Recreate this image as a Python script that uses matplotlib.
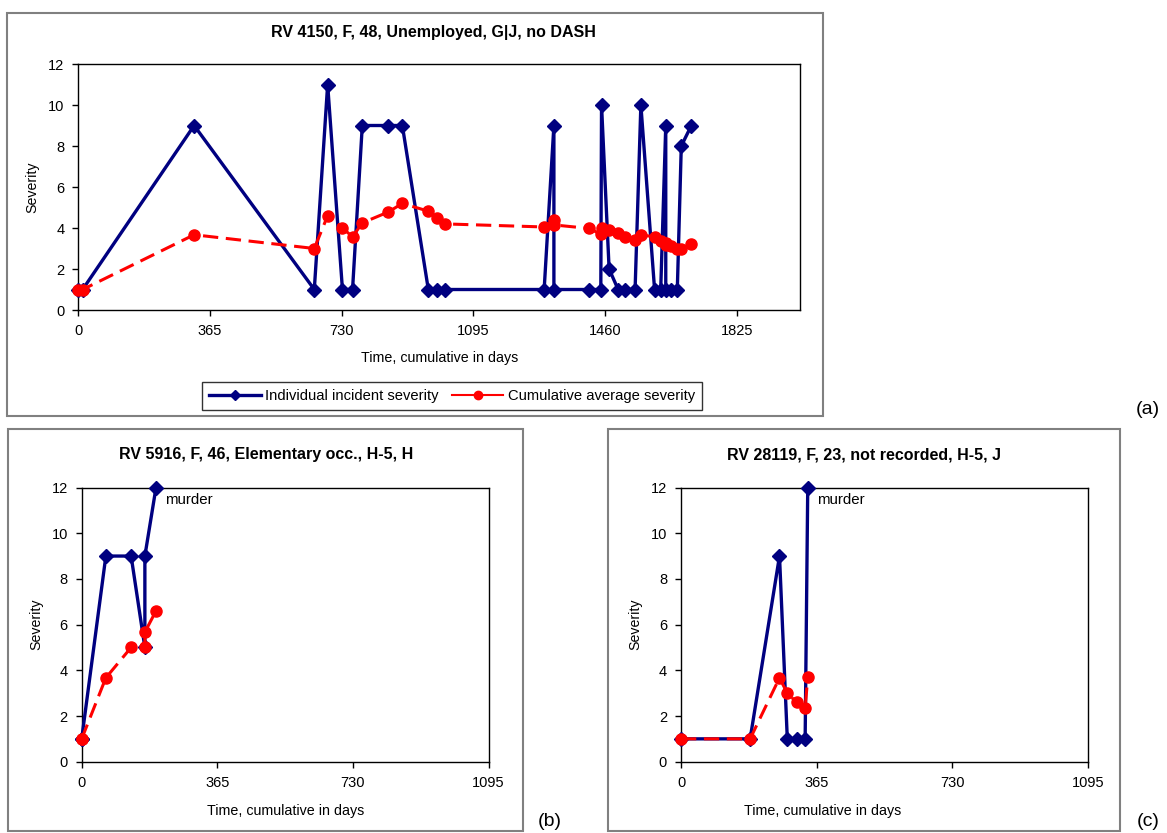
import matplotlib

matplotlib.use("Agg")
import matplotlib.pyplot as plt
from matplotlib.lines import Line2D
from matplotlib.patches import Rectangle

plt.rcParams["font.family"] = ["Liberation Sans", "DejaVu Sans"]

W, H = 1167, 833

# Panel (a): RV 4150
days_a = [0, 12, 321, 654, 691, 732, 760, 787, 859, 898, 970, 993, 1016,
          1291, 1318, 1318, 1415, 1448, 1450, 1471, 1496, 1515, 1543, 1559,
          1597, 1614, 1628, 1628, 1642, 1660, 1671, 1699]
indiv_a = [1, 1, 9, 1, 11, 1, 1, 9, 9, 9, 1, 1, 1,
           1, 9, 1, 1, 1, 10, 2, 1, 1, 1, 10,
           1, 1, 9, 1, 1, 1, 8, 9]
cumavg_a = [1.0, 1.0, 3.67, 3.0, 4.6, 4.0, 3.57, 4.25, 4.78, 5.2, 4.82, 4.5, 4.2,
            4.05, 4.38, 4.15, 3.98, 3.7, 4.0, 3.9, 3.74, 3.58, 3.4, 3.65,
            3.58, 3.35, 3.25, 3.15, 3.1, 2.98, 3.0, 3.22]

# Panel (b): RV 5916
days_b = [0, 0, 65, 133, 170, 170, 200]
indiv_b = [1, 1, 9, 9, 5, 9, 12]
cumavg_b = [1.0, 1.0, 3.67, 5.0, 5.0, 5.67, 6.6]

# Panel (c): RV 28119
days_c = [0, 186, 265, 286, 311, 334, 341]
indiv_c = [1, 1, 9, 1, 1, 1, 12]
cumavg_c = [1.0, 1.0, 3.67, 3.0, 2.6, 2.33, 3.71]

title_a = "RV 4150, F, 48, Unemployed, G|J, no DASH"
title_b = "RV 5916, F, 46, Elementary occ., H-5, H"
title_c = "RV 28119, F, 23, not recorded, H-5, J"

xticks_a = [0, 365, 730, 1095, 1460, 1825]
xticks_bc = [0, 365, 730, 1095]
yticks = [0, 2, 4, 6, 8, 10, 12]

BLUE = "#000080"
RED = "#FF0000"


def fig_rect(x0, y0, x1, y1):
    return [x0 / W, 1 - y1 / H, (x1 - x0) / W, (y1 - y0) / H]


def draw_panel(ax, days, indiv, cumavg, xmax, xticks, ylab_x, xlab_pos, murder=False):
    ax.plot(days, indiv, color=BLUE, lw=2.4, marker="D", ms=7, clip_on=False, zorder=3)
    ax.plot(days, cumavg, color=RED, lw=2.2, ls=(0, (5, 2.5)), marker="o", ms=8,
            clip_on=False, zorder=4)
    ax.set_xlim(0, xmax)
    ax.set_ylim(0, 12)
    ax.set_xticks(xticks)
    ax.set_yticks(yticks)
    ax.tick_params(direction="out", length=4, width=1, labelsize=10.5, pad=6)
    for s in ax.spines.values():
        s.set_linewidth(1)
        s.set_color("black")
    ax.set_ylabel("Severity", fontsize=10.2)
    ax.yaxis.set_label_coords(ylab_x, 0.5)
    ax.set_xlabel("Time, cumulative in days", fontsize=10.3)
    ax.xaxis.set_label_coords(*xlab_pos)
    if murder:
        ax.annotate("murder", (days[-1], indiv[-1]), xytext=(6.5, -9),
                    textcoords="offset points", fontsize=10.8, ha="left", va="center")


fig = plt.figure(figsize=(W / 100, H / 100), dpi=100)

# outer chart frames
for x0, y0, x1, y1 in [(7, 13, 823, 416), (8, 429, 523, 831), (608, 429, 1120, 831)]:
    fig.add_artist(Rectangle((x0 / W, 1 - y1 / H), (x1 - x0) / W, (y1 - y0) / H,
                             transform=fig.transFigure, fill=False, ec="#808080", lw=1.5))

ax_a = fig.add_axes(fig_rect(78.3, 64, 800, 310))
draw_panel(ax_a, days_a, indiv_a, cumavg_a, 2000, xticks_a, -0.054, (0.5, -0.167))

ax_b = fig.add_axes(fig_rect(81.7, 487.5, 488.6, 761.7))
draw_panel(ax_b, days_b, indiv_b, cumavg_b, 1095, xticks_bc, -0.095, (0.5, -0.155), murder=True)

ax_c = fig.add_axes(fig_rect(681, 487.5, 1088, 761.7))
draw_panel(ax_c, days_c, indiv_c, cumavg_c, 1095, xticks_bc, -0.096, (0.347, -0.155), murder=True)

fig.text(433 / W, 1 - 33 / H, title_a, ha="center", va="center", fontsize=11.5, fontweight="bold")
fig.text(266 / W, 1 - 455 / H, title_b, ha="center", va="center", fontsize=11.5, fontweight="bold")
fig.text(864 / W, 1 - 455 / H, title_c, ha="center", va="center", fontsize=11.5, fontweight="bold")

handles = [
    Line2D([], [], color=BLUE, lw=2.4, marker="D", ms=5),
    Line2D([], [], color=RED, lw=1.5, marker="o", ms=6),
]
leg = fig.legend(handles, ["Individual incident severity", "Cumulative average severity"],
                 loc="center", bbox_to_anchor=(452 / W, 1 - 396 / H), ncol=2,
                 fontsize=10.6, frameon=True, fancybox=False, edgecolor="black",
                 handlelength=3.5, handletextpad=0.3, columnspacing=0.9, borderpad=0.45)
leg.get_frame().set_linewidth(1)

fig.text(1148 / W, 1 - 410 / H, "(a)", ha="center", va="center", fontsize=14)
fig.text(550 / W, 1 - 822 / H, "(b)", ha="center", va="center", fontsize=14)
fig.text(1148 / W, 1 - 822 / H, "(c)", ha="center", va="center", fontsize=14)

fig.savefig("out.png", dpi=100)
